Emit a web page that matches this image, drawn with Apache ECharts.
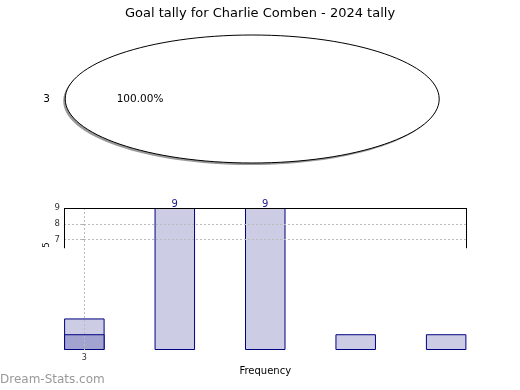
<!DOCTYPE html>
<html>
<head>
<meta charset="utf-8">
<script src="https://cdn.jsdelivr.net/npm/echarts@6/dist/echarts.min.js"></script>
<style>
html,body{margin:0;padding:0;background:#fff;}
#chart{width:520px;height:390px;}
</style>
</head>
<body>
<div id="chart"></div>
<script>
// ---- data ----
var titleText = 'Goal tally for Charlie Comben - 2024 tally';
var pieLabels = ['3'];
var pieValues = [100];
var barPositions = [0, 1, 2, 3, 4];
var barValues = [2, 9, 9, 1, 1];
var barOverlayValues = [1, null, null, null, null];
var barLabels = ['', '9', '9', '', ''];
var xTickValues = [0];
var xTickLabels = ['3'];
var yTickValues = [7, 8, 9];
var yAxisName = '5';
var xAxisName = 'Frequency';
var watermark = 'Dream-Stats.com';

// ---- layout ----
var xMin = -0.225, xMax = 4.225;
var yMin = 0, yMax = 9;
var spineLow = 6.45;
var FONT = '"DejaVu Sans", sans-serif';

var total = pieValues.reduce(function (a, b) { return a + b; }, 0);

var chart = echarts.init(document.getElementById('chart'), null, {renderer: 'canvas'});

var option = {
  animation: false,
  backgroundColor: '#fff',
  title: {
    text: titleText,
    left: 'center',
    top: 2,
    textStyle: {fontFamily: FONT, fontSize: 13, fontWeight: 'normal', color: '#000'}
  },
  graphic: [
    {type: 'text', left: 0, top: 374, style: {text: watermark, fill: '#999', font: '12px ' + FONT}},
    {type: 'text', x: 47, y: 245, rotation: Math.PI / 2,
      style: {text: yAxisName, fill: '#000', font: '8px ' + FONT, align: 'center', verticalAlign: 'middle'}}
  ],
  grid: {left: 64, top: 208, right: 53.5, bottom: 40, containLabel: false},
  xAxis: {
    type: 'value', min: xMin, max: xMax,
    name: xAxisName, nameLocation: 'middle', nameGap: 16,
    nameTextStyle: {fontFamily: FONT, fontSize: 10, color: '#000'},
    axisLine: {show: false},
    axisTick: {show: false},
    splitLine: {show: false},
    axisLabel: {
      customValues: xTickValues,
      formatter: function (v) { var i = xTickValues.indexOf(v); return i >= 0 ? xTickLabels[i] : ''; },
      fontFamily: FONT, fontSize: 8, color: '#333', margin: 4
    }
  },
  yAxis: {
    type: 'value', min: yMin, max: yMax,
    axisLine: {show: false},
    axisTick: {show: true, customValues: yTickValues, length: 3, lineStyle: {color: '#aaa'}},
    splitLine: {show: false},
    axisLabel: {customValues: yTickValues, fontFamily: FONT, fontSize: 8.5, color: '#333', margin: 4}
  },
  series: [
    {
      type: 'custom',
      coordinateSystem: 'none',
      silent: true,
      data: pieValues,
      renderItem: function (params, api) {
        var W = api.getWidth();
        var cx = W * 0.485, cy = 99, rx = 187, ry = 64;
        var pct = (pieValues[params.dataIndex] / total * 100).toFixed(2) + '%';
        return {
          type: 'group',
          children: [
            {type: 'ellipse', shape: {cx: cx - 2, cy: cy + 2, rx: rx, ry: ry},
              style: {fill: '#999', stroke: null}},
            {type: 'ellipse', shape: {cx: cx, cy: cy, rx: rx, ry: ry},
              style: {fill: '#fff', stroke: '#000', lineWidth: 1}},
            {type: 'text', x: cx - rx * 1.1, y: cy,
              style: {text: pieLabels[params.dataIndex], fill: '#000', font: '10.5px ' + FONT, align: 'center', verticalAlign: 'middle'}},
            {type: 'text', x: cx - rx * 0.6, y: cy,
              style: {text: pct, fill: '#000', font: '10.5px ' + FONT, align: 'center', verticalAlign: 'middle'}}
          ]
        };
      }
    },
    {
      type: 'bar',
      name: 'main',
      barWidth: 40.5,
      barGap: '-100%',
      itemStyle: {color: '#ccccE5', borderColor: '#000080', borderWidth: 1},
      label: {
        show: true, position: 'top', distance: -1,
        fontFamily: FONT, fontSize: 10, color: '#1a1a8c',
        formatter: function (p) { return barLabels[p.dataIndex]; }
      },
      data: barPositions.map(function (x, i) { return [x, barValues[i]]; }),
      z: 2,
      markLine: {
        silent: true, symbol: 'none', label: {show: false}, z: 5,
        data: [
          {yAxis: 8, lineStyle: {color: '#bbb', type: [2, 2], width: 1}},
          {yAxis: 7, lineStyle: {color: '#bbb', type: [2, 2], width: 1}},
          {xAxis: xTickValues[0], lineStyle: {color: '#bbb', type: [2, 2], width: 1}},
          {yAxis: yMax, lineStyle: {color: '#000', type: 'solid', width: 1}},
          [{coord: [xMin, spineLow], lineStyle: {color: '#000', type: 'solid', width: 1}}, {coord: [xMin, yMax]}],
          [{coord: [xMax, spineLow], lineStyle: {color: '#000', type: 'solid', width: 1}}, {coord: [xMax, yMax]}]
        ]
      }
    },
    {
      type: 'bar',
      name: 'overlay',
      barWidth: 40.5,
      barGap: '-100%',
      itemStyle: {color: '#a3a3d1', borderColor: '#000080', borderWidth: 1},
      data: barPositions.map(function (x, i) { return [x, barOverlayValues[i]]; }),
      z: 3
    }
  ]
};
chart.setOption(option);
</script>
</body>
</html>
